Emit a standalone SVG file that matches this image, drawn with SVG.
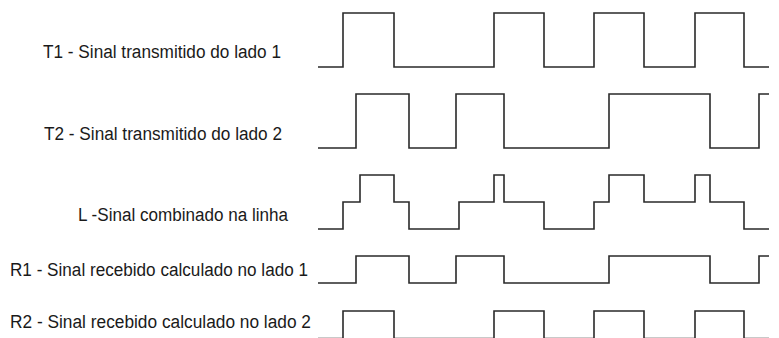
<svg xmlns="http://www.w3.org/2000/svg" width="779" height="338" viewBox="0 0 779 338">
<style>
.w{fill:none;stroke:#2a2a2a;stroke-width:1.6;stroke-linejoin:miter;stroke-linecap:butt}
.t{font-family:"Liberation Sans",Arial,sans-serif;font-size:18px;fill:#1a1a1a}
</style>
<rect width="779" height="338" fill="#ffffff"/>
<g id="T1">
<text class="t" x="43" y="58" textLength="238" lengthAdjust="spacingAndGlyphs">T1 - Sinal transmitido do lado 1</text>
<path class="w" d="M318,67 H343 V13 H394 V67 H494 V13 H544 V67 H594 V13 H644 V67 H695 V13 H744 V67 H769"/>
</g>
<g id="T2">
<text class="t" x="44" y="140" textLength="238" lengthAdjust="spacingAndGlyphs">T2 - Sinal transmitido do lado 2</text>
<path class="w" d="M318,148 H356 V94 H409 V148 H456 V94 H504 V148 H609 V94 H710 V148 H759 V94 H769"/>
</g>
<g id="L">
<text class="t" x="78" y="221" textLength="210" lengthAdjust="spacingAndGlyphs">L -Sinal combinado na linha</text>
<path class="w" d="M318,229 H343 V202 H360 V175 H394 V202 H409 V229 H459 V202 H494 V175 H504 V202 H544 V229 H594 V202 H609 V175 H644 V202 H695 V175 H710 V202 H744 V229 H769"/>
</g>
<g id="R1">
<text class="t" x="10" y="276" textLength="298" lengthAdjust="spacingAndGlyphs">R1 - Sinal recebido calculado no lado 1</text>
<path class="w" d="M318,283 H356 V256 H409 V283 H456 V256 H504 V283 H609 V256 H710 V283 H759 V256 H769"/>
</g>
<g id="R2">
<text class="t" x="10" y="328" textLength="301" lengthAdjust="spacingAndGlyphs">R2 - Sinal recebido calculado no lado 2</text>
<path class="w" d="M318,338.6 H343 V311 H394 V338.6 H494 V311 H544 V338.6 H594 V311 H644 V338.6 H695 V311 H744 V338.6 H769"/>
</g>
<g id="connectors"/>
</svg>
